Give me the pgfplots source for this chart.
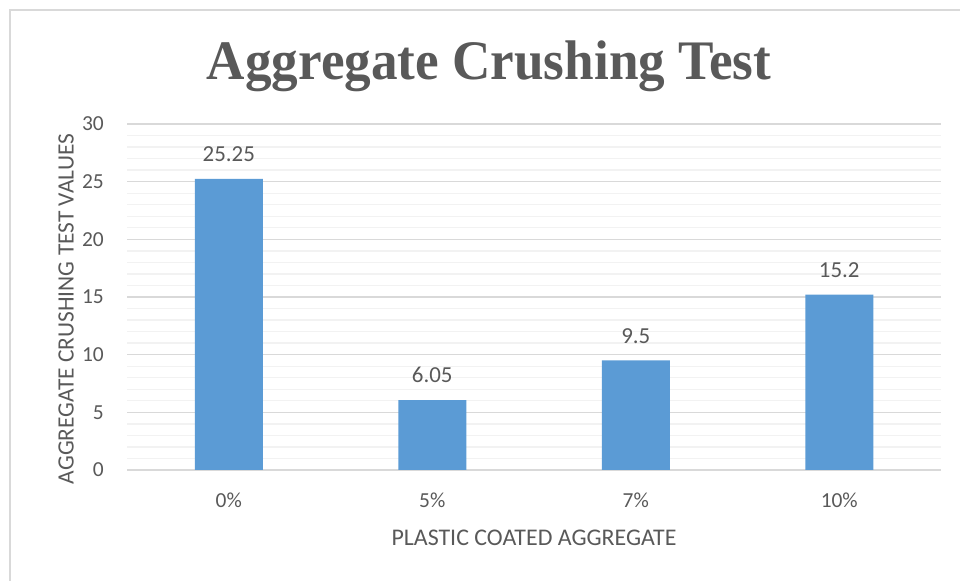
\documentclass[border=0pt]{standalone}
\usepackage{pgfplots}
\pgfplotsset{compat=1.18}
\usepackage{fontspec}
\setmainfont{Carlito}
\newfontfamily\titlefont{Liberation Serif}
\definecolor{barblue}{HTML}{5B9BD5}
\definecolor{gridmaj}{HTML}{D9D9D9}
\definecolor{gridmin}{HTML}{F2F2F2}
\definecolor{txt}{HTML}{595959}
\begin{document}
\begin{tikzpicture}[x=1bp,y=1bp]
\path[use as bounding box] (0,0) rectangle (960,581);
\draw[gridmaj, line width=1.5bp] (10,0) -- (10,571) -- (960,571);
\begin{axis}[
  at={(127bp,111bp)}, anchor=south west,
  scale only axis, width=814bp, height=346bp,
  xmin=-0.5, xmax=3.5, ymin=0, ymax=30,
  xtick=data, xticklabels={0\%,5\%,7\%,10\%},
  ytick={0,5,...,30}, minor y tick num=4,
  ymajorgrids, yminorgrids,
  major grid style={draw=gridmaj, line width=1.3bp},
  minor grid style={draw=gridmin, line width=1.3bp},
  axis lines*=left,
  y axis line style={draw=none},
  x axis line style={draw=gridmaj, line width=1.5bp, -},
  major tick length=0pt, minor tick length=0pt,
  tick style={draw=none},
  /pgf/number format/assume math mode=true,
  tick label style={font=\fontsize{21.5}{25}\selectfont, text=txt},
  yticklabel style={inner sep=0pt, xshift=-23bp},
  xticklabel style={inner sep=0pt, yshift=-23bp},
  ybar, bar width=68bp,
  nodes near coords,
  every node near coord/.append style={font=\fontsize{23}{27}\selectfont, text=txt, inner sep=0pt, yshift=17bp},
]
\addplot[fill=barblue, draw=none] coordinates {(0,25.25) (1,6.05) (2,9.5) (3,15.2)};
\end{axis}
\node[anchor=base, text=txt, xscale=0.953, font=\titlefont\fontsize{56}{60}\selectfont\bfseries] at (489,501) {Aggregate Crushing Test};
\node[rotate=90, text=txt, font=\fontsize{23.5}{27}\selectfont] at (66,272) {AGGREGATE CRUSHING TEST VALUES};
\node[text=txt, font=\fontsize{24}{28}\selectfont] at (534,43) {PLASTIC COATED AGGREGATE};
\end{tikzpicture}
\end{document}
